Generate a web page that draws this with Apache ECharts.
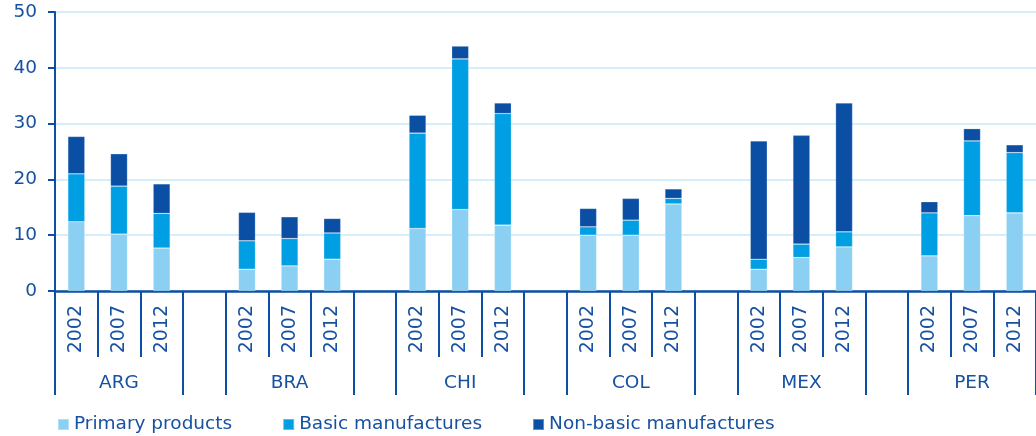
<!DOCTYPE html>
<html lang="en">
<head>
    <meta charset="UTF-8">
    <title>Export structure</title>
    <script src="https://cdn.jsdelivr.net/npm/echarts@6/dist/echarts.min.js"></script>
    <style>
        body { margin: 0; background: #fff; }
        #chart { width: 1036px; height: 436px; }
    </style>
</head>
<body>
<div id="chart"></div>
<script>
    var countries = ['ARG', 'BRA', 'CHI', 'COL', 'MEX', 'PER'];
    var years = ['2002', '2007', '2012'];
    // values per country, per year (share, %)
    var primary = [12.4, 10.2, 7.7, 3.9, 4.5, 5.7, 11.2, 14.6, 11.8, 10.0, 10.0, 15.6, 3.9, 6.0, 7.9, 6.3, 13.5, 14.0];
    var basic = [8.6, 8.6, 6.2, 5.1, 4.9, 4.7, 17.1, 27.0, 20.0, 1.5, 2.7, 1.0, 1.8, 2.4, 2.7, 7.7, 13.4, 10.8];
    var nonBasic = [6.7, 5.8, 5.3, 5.1, 3.9, 2.6, 3.2, 2.3, 1.9, 3.3, 3.9, 1.7, 21.2, 19.5, 23.1, 2.0, 2.2, 1.4];
    var yTicks = [0, 10, 20, 30, 40, 50];

    var textColor = '#1651a2';
    var lineColor = '#0d4fa3';
    var font = 'DejaVu Sans';

    // build the slots: 3 years per country, one empty slot between countries
    var yearCats = [];
    var countryCats = [];
    var groupEdge = {};
    function spread(arr) {
        var out = [];
        for (var c = 0; c < countries.length; c++) {
            for (var y = 0; y < years.length; y++) {
                out.push(arr[c * years.length + y]);
            }
            if (c < countries.length - 1) out.push(null);
        }
        return out;
    }
    for (var c = 0; c < countries.length; c++) {
        groupEdge[yearCats.length] = true;
        for (var y = 0; y < years.length; y++) {
            yearCats.push(years[y]);
            countryCats.push(y === 1 ? countries[c] : '');
        }
        if (c < countries.length - 1) {
            groupEdge[yearCats.length] = true;
            yearCats.push('');
            countryCats.push('');
        }
    }

    var myChart = echarts.init(document.getElementById('chart'));

    function barSeries(name, data, color) {
        return {
            name: name,
            type: 'bar',
            stack: 'total',
            data: spread(data),
            barWidth: 17,
            itemStyle: {
                color: color,
                borderColor: 'rgba(255,255,255,0.35)',
                borderWidth: 0.6
            }
        };
    }

    var option = {
        animation: false,
        textStyle: { fontFamily: font },
        grid: { left: 55, top: 12, width: 982, bottom: 145, containLabel: false },
        legend: {
            left: 52,
            top: 410,
            itemWidth: 11,
            itemHeight: 11,
            itemGap: 50,
            icon: 'rect',
            textStyle: { color: textColor, fontSize: 18.5, fontFamily: font },
            data: ['Primary products', 'Basic manufactures', 'Non-basic manufactures']
        },
        xAxis: [
            {
                type: 'category',
                data: yearCats,
                position: 'bottom',
                axisLine: { show: true, lineStyle: { color: lineColor, width: 2.5 } },
                axisTick: { show: true, interval: 0, length: 66, lineStyle: { color: lineColor, width: 2 } },
                axisLabel: {
                    interval: 0,
                    rotate: 90,
                    margin: 14,
                    color: textColor,
                    fontSize: 19,
                    fontFamily: font
                },
                splitLine: { show: false }
            },
            {
                type: 'category',
                data: countryCats,
                position: 'bottom',
                offset: 0,
                axisLine: { show: false },
                axisTick: {
                    show: true,
                    length: 104,
                    interval: function (index) { return !!groupEdge[index]; },
                    lineStyle: { color: lineColor, width: 2 }
                },
                axisLabel: {
                    interval: 0,
                    margin: 83,
                    color: textColor,
                    fontSize: 18.5,
                    fontFamily: font
                },
                splitLine: { show: false }
            }
        ],
        yAxis: {
            type: 'value',
            min: yTicks[0],
            max: yTicks[yTicks.length - 1],
            interval: 10,
            axisLine: { show: true, lineStyle: { color: lineColor, width: 2 } },
            axisTick: { show: true, length: 7, lineStyle: { color: lineColor, width: 2 } },
            axisLabel: { color: textColor, fontSize: 18.5, margin: 18, fontFamily: font },
            splitLine: { show: true, lineStyle: { color: '#c6e9f8', width: 1.5 } }
        },
        series: [
            barSeries('Primary products', primary, '#8bd0f2'),
            barSeries('Basic manufactures', basic, '#009fe3'),
            barSeries('Non-basic manufactures', nonBasic, '#0a4fa4')
        ]
    };
    myChart.setOption(option);
</script>
</body>
</html>
